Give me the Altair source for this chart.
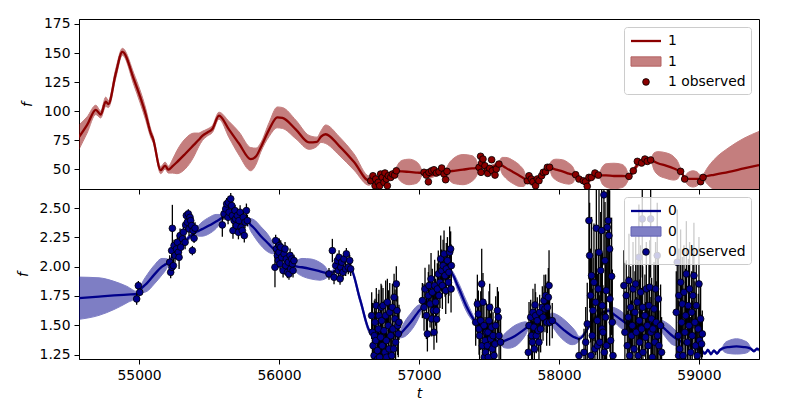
import altair as alt
import pandas as pd

# ---------------- data ----------------
x_ticks = [55000, 56000, 57000, 58000, 59000]
top_y_ticks = [50, 75, 100, 125, 150, 175]
bot_y_ticks = [1.25, 1.5, 1.75, 2.0, 2.25, 2.5]

# model mean and 1-sigma half width, series "1" (t, mean, sd)
top_model = [
    (54571, 77.5, 10.5), (54629, 88, 7), (54691, 101, 4), (54726, 97, 3), (54762, 108, 4),
    (54781, 106, 3), (54833, 132, 4), (54881, 151, 3), (54964, 127, 5), (55048, 97, 5),
    (55086, 80, 3.5), (55100, 76, 3), (55155, 49, 3), (55186, 53, 3), (55209, 49.5, 3),
    (55240, 52.5, 6), (55271, 56, 10), (55329, 63, 13), (55393, 71, 10), (55425, 75, 6),
    (55452, 78.5, 4), (55488, 81.5, 3), (55524, 84.5, 3), (55571, 96, 3), (55643, 84, 7),
    (55714, 72, 10), (55798, 58.5, 10), (55836, 61, 7), (55869, 68.5, 4), (55929, 84, 6),
    (55988, 94.5, 9), (56024, 94, 9), (56121, 84, 8), (56214, 73, 6), (56271, 73.5, 4),
    (56300, 78, 5), (56333, 80, 8), (56429, 70, 8), (56536, 56, 7), (56643, 40, 4),
    (56686, 42, 2), (56729, 39, 2), (56771, 44, 2), (56833, 48.5, 2),
    (56856, 48.2, 7), (56879, 48, 9.5), (56929, 47.5, 11), (56979, 47, 9.5), (57002, 46.8, 7), (57024, 46.5, 2),
    (57071, 44, 2), (57121, 46, 2), (57186, 47.5, 2),
    (57220, 48, 8), (57250, 48.5, 11), (57314, 49.5, 13), (57379, 50.5, 11), (57405, 50.8, 8), (57429, 51, 2),
    (57450, 58, 2), (57486, 50, 2), (57529, 52, 2), (57571, 54.5, 2),
    (57594, 53, 7), (57621, 51, 9), (57671, 47.5, 10), (57721, 44, 9), (57748, 42, 7), (57771, 40, 2),
    (57807, 38, 2), (57836, 41, 2), (57879, 45, 2), (57929, 51.5, 2),
    (57952, 50.5, 7), (57979, 49.5, 9), (58025, 48, 10), (58071, 46, 9), (58098, 45, 7), (58121, 44, 2),
    (58157, 41, 2), (58200, 38, 2), (58236, 43, 2), (58286, 44.5, 2),
    (58310, 44.5, 7.5), (58336, 44.5, 10), (58393, 44, 11), (58450, 44, 10), (58476, 43.8, 7.5), (58500, 43.5, 2),
    (58529, 48, 2), (58557, 53, 2), (58593, 57, 2), (58629, 58, 2), (58657, 58, 2),
    (58680, 56.5, 7.5), (58707, 55, 10), (58764, 53, 11), (58821, 50.5, 10), (58848, 49, 7.5), (58871, 48, 2),
    (58900, 42, 2), (58914, 41.7, 4.5), (58929, 41.5, 6), (58957, 41.5, 7), (58986, 41.5, 6),
    (59000, 41.5, 4.5), (59014, 41.5, 2), (59029, 43, 2),
    (59060, 44, 7), (59107, 45, 13), (59214, 47.5, 21), (59321, 50.5, 26), (59429, 53.4, 29),
]

# observed points, series "1" (t, f, error)
top_obs = [
    (56655, 39.9, 1.5), (56671, 44.2, 1.2), (56686, 35.6, 1.6), (56691, 41.4, 1.3), (56709, 38.5, 1.5),
    (56719, 35.6, 1.4), (56726, 45.7, 1.2), (56738, 42.8, 1.5), (56750, 38.5, 1.3), (56757, 46.6, 1.4),
    (56767, 41.4, 1.5), (56774, 35.6, 1.2), (56781, 44.2, 1.3), (56798, 42.8, 1.5), (56810, 45.7, 1.4),
    (56826, 44.8, 1.2), (56838, 48.5, 1.5),
    (57036, 47.2, 1.4), (57052, 44.8, 1.3), (57067, 39.0, 1.5), (57071, 47.2, 1.2), (57090, 48.5, 1.4),
    (57107, 49.4, 1.3), (57124, 46.6, 1.5), (57143, 47.7, 1.2), (57162, 50.9, 1.4), (57179, 45.7, 1.3),
    (57190, 40.8, 1.5), (57200, 48.0, 1.2),
    (57429, 51.4, 1.5), (57440, 61.0, 1.4), (57443, 47.2, 1.3), (57448, 55.2, 1.5), (57457, 58.6, 1.2),
    (57471, 52.8, 1.4), (57488, 48.5, 1.3), (57491, 46.3, 1.5), (57505, 50.6, 1.2), (57519, 58.0, 1.4),
    (57524, 48.5, 1.3), (57543, 44.8, 1.5), (57552, 50.0, 1.2), (57571, 54.3, 1.4),
    (57774, 39.9, 1.3), (57786, 44.2, 1.5), (57802, 41.4, 1.2), (57814, 39.1, 1.4), (57833, 35.6, 1.3),
    (57845, 41.4, 1.5), (57857, 39.9, 1.2), (57876, 44.2, 1.4), (57888, 47.2, 1.3), (57905, 47.7, 1.5),
    (57917, 51.5, 1.2), (57933, 51.5, 1.4),
    (58119, 45.1, 1.3), (58143, 41.4, 1.5), (58174, 39.9, 1.2), (58190, 39.1, 1.4), (58202, 35.1, 1.3),
    (58214, 42.8, 1.5), (58231, 42.8, 1.2), (58257, 46.6, 1.4), (58281, 44.8, 1.3),
    (58500, 43.7, 1.5), (58531, 48.5, 1.2), (58560, 56.6, 1.4), (58590, 55.2, 1.3), (58614, 58.6, 1.5),
    (58631, 56.6, 1.2), (58655, 57.8, 1.4),
    (58869, 48.0, 1.3), (58898, 41.4, 1.5), (59012, 39.1, 1.2), (59029, 42.8, 1.4),
]

# model mean and 1-sigma half width, series "0" (t, mean, sd)
bot_model = [
    (54571, 1.731, 0.18), (54714, 1.745, 0.16), (54821, 1.755, 0.12), (54914, 1.762, 0.07), (54988, 1.767, 0.02),
    (55007, 1.80, 0.02), (55030, 1.83, 0.05), (55057, 1.86, 0.07), (55107, 1.93, 0.08), (55164, 2.00, 0.07),
    (55190, 2.02, 0.05), (55214, 2.04, 0.02),
    (55257, 2.12, 0.02), (55307, 2.18, 0.02), (55357, 2.25, 0.02), (55405, 2.293, 0.02),
    (55425, 2.305, 0.045), (55450, 2.32, 0.06), (55500, 2.35, 0.07), (55550, 2.385, 0.06), (55572, 2.40, 0.045),
    (55595, 2.42, 0.02),
    (55643, 2.45, 0.02), (55693, 2.42, 0.02), (55736, 2.40, 0.02), (55774, 2.39, 0.02),
    (55795, 2.36, 0.05), (55821, 2.33, 0.07), (55871, 2.26, 0.08), (55929, 2.19, 0.07), (55953, 2.16, 0.05),
    (55976, 2.137, 0.02),
    (56021, 2.07, 0.02), (56064, 2.03, 0.02), (56100, 2.01, 0.02),
    (56130, 2.00, 0.055), (56164, 1.995, 0.075), (56229, 1.98, 0.085), (56293, 1.96, 0.075), (56327, 1.95, 0.055),
    (56357, 1.938, 0.02),
    (56407, 1.97, 0.02), (56457, 1.99, 0.02), (56512, 1.98, 0.02), (56579, 1.72, 0.025), (56655, 1.44, 0.02),
    (56750, 1.42, 0.02), (56857, 1.412, 0.02),
    (56877, 1.44, 0.045), (56900, 1.47, 0.065), (56943, 1.53, 0.075), (56986, 1.60, 0.065), (57006, 1.63, 0.045),
    (57024, 1.654, 0.02),
    (57086, 1.75, 0.02), (57150, 1.85, 0.02), (57226, 1.952, 0.02), (57279, 1.83, 0.04), (57336, 1.67, 0.045),
    (57405, 1.526, 0.02), (57493, 1.44, 0.02), (57583, 1.356, 0.02),
    (57606, 1.365, 0.055), (57636, 1.38, 0.075), (57686, 1.41, 0.09), (57736, 1.45, 0.075), (57762, 1.475, 0.055),
    (57786, 1.50, 0.02),
    (57857, 1.54, 0.02), (57929, 1.569, 0.02),
    (57952, 1.55, 0.055), (57979, 1.52, 0.075), (58036, 1.46, 0.09), (58093, 1.41, 0.075), (58118, 1.395, 0.055),
    (58143, 1.384, 0.02),
    (58250, 1.55, 0.02), (58357, 1.625, 0.02), (58380, 1.605, 0.05), (58407, 1.58, 0.065), (58464, 1.53, 0.07),
    (58500, 1.50, 0.05), (58524, 1.484, 0.02),
    (58614, 1.50, 0.02), (58714, 1.512, 0.02), (58738, 1.49, 0.05), (58764, 1.46, 0.065), (58821, 1.40, 0.07),
    (58855, 1.375, 0.05), (58881, 1.356, 0.02),
    (58957, 1.32, 0.02), (59021, 1.28, 0.02), (59043, 1.26, 0.01), (59064, 1.29, 0.01), (59086, 1.255, 0.01),
    (59107, 1.285, 0.01), (59129, 1.26, 0.01), (59150, 1.29, 0.01), (59164, 1.30, 0.01),
    (59185, 1.31, 0.04), (59214, 1.315, 0.055), (59268, 1.32, 0.065), (59321, 1.315, 0.055), (59350, 1.31, 0.04),
    (59371, 1.30, 0.01),
    (59393, 1.28, 0.01), (59414, 1.30, 0.01), (59429, 1.29, 0.01),
]

# observed points, series "0" (t, f, error)
bot_obs = [
    (54983, 1.725, 0.05), (54995, 1.838, 0.04), (55005, 1.782, 0.03),
    (55219, 2.038, 0.06), (55226, 1.952, 0.05), (55233, 2.137, 0.06), (55235, 1.995, 0.07), (55238, 2.327, 0.2),
    (55245, 2.009, 0.06), (55250, 2.180, 0.05), (55257, 2.095, 0.06), (55267, 2.151, 0.05), (55274, 2.208, 0.06),
    (55281, 2.123, 0.05), (55286, 2.080, 0.1), (55293, 2.265, 0.06), (55298, 2.166, 0.05), (55310, 2.237, 0.06),
    (55317, 2.294, 0.05), (55329, 2.208, 0.06), (55333, 2.356, 0.05), (55338, 2.436, 0.04), (55345, 2.379, 0.05),
    (55352, 2.450, 0.04), (55357, 2.322, 0.06), (55364, 2.421, 0.05), (55369, 2.393, 0.05), (55376, 2.350, 0.06),
    (55381, 2.137, 0.04), (55386, 2.308, 0.05), (55393, 2.242, 0.04), (55400, 2.328, 0.05),
    (55595, 2.356, 0.1), (55607, 2.450, 0.05), (55619, 2.492, 0.06), (55626, 2.535, 0.05), (55636, 2.421, 0.06),
    (55638, 2.549, 0.05), (55643, 2.464, 0.06), (55655, 2.578, 0.05), (55662, 2.521, 0.06), (55667, 2.436, 0.05),
    (55671, 2.308, 0.07), (55679, 2.393, 0.06), (55686, 2.478, 0.05), (55690, 2.407, 0.06), (55695, 2.350, 0.06),
    (55702, 2.436, 0.05), (55710, 2.293, 0.06), (55714, 2.393, 0.05), (55722, 2.464, 0.06), (55729, 2.336, 0.05),
    (55738, 2.308, 0.06), (55745, 2.421, 0.05), (55752, 2.265, 0.06), (55757, 2.379, 0.05), (55767, 2.478, 0.06),
    (55774, 2.393, 0.05),
    (55971, 1.995, 0.17), (55976, 2.222, 0.05), (55981, 2.151, 0.06), (55988, 2.095, 0.05), (55995, 2.052, 0.06),
    (56000, 2.123, 0.05), (56002, 2.180, 0.06), (56007, 2.024, 0.05), (56012, 2.166, 0.06), (56019, 2.080, 0.05),
    (56029, 1.967, 0.06), (56036, 2.109, 0.05), (56043, 2.151, 0.06), (56048, 2.009, 0.05), (56052, 2.066, 0.06),
    (56060, 1.952, 0.05), (56067, 2.038, 0.06), (56071, 1.938, 0.05), (56079, 2.095, 0.06), (56083, 1.981, 0.05),
    (56091, 2.066, 0.06), (56095, 2.024, 0.05), (56100, 1.967, 0.06), (56107, 2.052, 0.05),
    (56357, 1.938, 0.05), (56381, 2.137, 0.1), (56393, 1.910, 0.06), (56405, 2.009, 0.05), (56417, 2.052, 0.06),
    (56424, 1.967, 0.05), (56429, 2.080, 0.06), (56436, 1.896, 0.05), (56441, 1.995, 0.06), (56448, 2.038, 0.05),
    (56457, 1.952, 0.06), (56464, 2.066, 0.05), (56476, 1.981, 0.06), (56481, 2.109, 0.05), (56495, 1.995, 0.06),
    (56505, 2.052, 0.05), (56512, 1.981, 0.06),
    (56662, 1.583, 0.2), (56667, 1.441, 0.25), (56672, 1.327, 0.18), (56679, 1.242, 0.22), (56681, 1.412, 0.3),
    (56686, 1.526, 0.2), (56691, 1.370, 0.25), (56695, 1.668, 0.15), (56703, 1.285, 0.2), (56705, 1.214, 0.25),
    (56710, 1.469, 0.3), (56714, 1.583, 0.22), (56719, 1.228, 0.2), (56726, 1.398, 0.25), (56729, 1.654, 0.2),
    (56733, 1.540, 0.3), (56738, 1.327, 0.2), (56743, 1.668, 0.15), (56750, 1.455, 0.25), (56757, 1.270, 0.2),
    (56762, 1.583, 0.3), (56767, 1.370, 0.2), (56769, 1.228, 0.25), (56774, 1.697, 0.2), (56781, 1.498, 0.3),
    (56786, 1.299, 0.2), (56791, 1.611, 0.25), (56798, 1.412, 0.2), (56805, 1.242, 0.25), (56810, 1.654, 0.2),
    (56814, 1.469, 0.3), (56819, 1.299, 0.2), (56822, 1.739, 0.2), (56829, 1.555, 0.25), (56833, 1.356, 0.2),
    (56838, 1.853, 0.15), (56843, 1.626, 0.2), (56848, 1.498, 0.25), (56852, 1.427, 0.2), (56857, 1.526, 0.15),
    (57024, 1.711, 0.15), (57036, 1.654, 0.2), (57043, 1.810, 0.18), (57053, 1.583, 0.2), (57060, 1.427, 0.15),
    (57067, 1.754, 0.2), (57071, 1.839, 0.18), (57079, 1.682, 0.2), (57086, 1.896, 0.22), (57091, 1.555, 0.15),
    (57095, 1.782, 0.2), (57103, 1.626, 0.18), (57107, 1.441, 0.15), (57112, 1.839, 0.22), (57119, 1.697, 0.2),
    (57124, 1.626, 0.18), (57126, 1.552, 0.2), (57131, 1.810, 0.22), (57138, 1.938, 0.2), (57143, 1.754, 0.18),
    (57150, 1.867, 0.22), (57155, 2.066, 0.2), (57162, 1.967, 0.18), (57167, 1.839, 0.2), (57172, 2.009, 0.22),
    (57179, 2.109, 0.2), (57186, 1.924, 0.18), (57191, 1.796, 0.2), (57195, 1.981, 0.22), (57203, 2.052, 0.2),
    (57210, 1.867, 0.18), (57214, 1.952, 0.2), (57219, 2.123, 0.22), (57226, 2.151, 0.15), (57229, 1.810, 0.2),
    (57231, 2.009, 0.18),
    (57405, 1.526, 0.2), (57417, 1.682, 0.25), (57424, 1.597, 0.2), (57429, 1.469, 0.22), (57433, 1.412, 0.2),
    (57441, 1.540, 0.25), (57448, 1.853, 0.3), (57453, 1.327, 0.2), (57457, 1.697, 0.25), (57464, 1.498, 0.2),
    (57467, 1.228, 0.25), (57472, 1.370, 0.2), (57476, 1.270, 0.22), (57481, 1.441, 0.25), (57488, 1.327, 0.2),
    (57493, 1.441, 0.22), (57495, 1.228, 0.2), (57500, 1.540, 0.25), (57505, 1.654, 0.2), (57512, 1.384, 0.22),
    (57519, 1.484, 0.2), (57524, 1.299, 0.25), (57529, 1.412, 0.2), (57536, 1.242, 0.22), (57543, 1.341, 0.2),
    (57548, 1.498, 0.25), (57560, 1.626, 0.2), (57567, 1.569, 0.22), (57572, 1.412, 0.2), (57583, 1.356, 0.2),
    (57781, 1.270, 0.15), (57786, 1.498, 0.2), (57798, 1.569, 0.15), (57805, 1.412, 0.2), (57810, 1.356, 0.18),
    (57814, 1.611, 0.2), (57821, 1.484, 0.15), (57824, 1.299, 0.2), (57829, 1.674, 0.18), (57833, 1.583, 0.2),
    (57838, 1.412, 0.15), (57845, 1.540, 0.2), (57852, 1.455, 0.18), (57857, 1.356, 0.2), (57862, 1.611, 0.15),
    (57869, 1.469, 0.2), (57881, 1.654, 0.18), (57886, 1.569, 0.2), (57893, 1.711, 0.22), (57900, 1.640, 0.2),
    (57905, 1.754, 0.18), (57912, 1.526, 0.2), (57917, 1.654, 0.22), (57924, 1.739, 0.25), (57929, 1.839, 0.3),
    (57933, 1.526, 0.2), (57952, 1.540, 0.15),
    (58143, 1.242, 0.15), (58179, 1.270, 0.2), (58191, 1.356, 0.3), (58202, 1.512, 0.35), (58214, 2.393, 0.5),
    (58219, 2.095, 0.45), (58226, 1.754, 0.4), (58229, 1.242, 0.35), (58233, 1.924, 0.5), (58238, 1.412, 0.4),
    (58243, 1.626, 0.45), (58250, 1.867, 0.5), (58257, 1.299, 0.35), (58262, 1.697, 0.45), (58267, 2.328, 0.55),
    (58274, 1.540, 0.4), (58276, 1.327, 0.35), (58281, 1.810, 0.5), (58286, 2.123, 0.55), (58291, 1.356, 0.4),
    (58298, 1.967, 0.5), (58305, 2.308, 0.6), (58307, 1.469, 0.4), (58310, 1.668, 0.45), (58314, 1.441, 0.4),
    (58321, 2.612, 0.6), (58324, 1.270, 0.35), (58329, 2.052, 0.5), (58333, 1.569, 0.45), (58338, 1.796, 0.5),
    (58340, 1.327, 0.4), (58345, 2.336, 0.55), (58352, 2.393, 0.6), (58357, 2.265, 0.55), (58362, 2.151, 0.5),
    (58364, 1.725, 0.45), (58369, 1.370, 0.4), (58376, 1.918, 0.5), (58381, 1.526, 0.45), (58386, 1.242, 0.35),
    (58464, 1.839, 0.3), (58471, 1.441, 0.35), (58481, 1.754, 0.3), (58488, 1.327, 0.3), (58495, 1.569, 0.35),
    (58500, 1.881, 0.4), (58505, 1.242, 0.3), (58512, 1.654, 0.35), (58519, 1.412, 0.3), (58524, 1.498, 0.35),
    (58529, 1.810, 0.4), (58536, 1.299, 0.3), (58543, 1.611, 0.35), (58548, 1.853, 0.4), (58552, 1.441, 0.3),
    (58559, 1.697, 0.35), (58567, 1.242, 0.3), (58571, 2.080, 0.45), (58574, 1.540, 0.35), (58576, 1.356, 0.3),
    (58583, 1.782, 0.4), (58590, 1.469, 0.35), (58595, 2.407, 0.5), (58598, 1.654, 0.35), (58600, 1.270, 0.3),
    (58614, 1.583, 0.35), (58619, 1.398, 0.3), (58624, 1.810, 0.4), (58631, 1.498, 0.35), (58638, 1.327, 0.3),
    (58643, 1.668, 0.35), (58648, 1.825, 0.4), (58655, 2.407, 0.5), (58657, 1.441, 0.3), (58662, 1.555, 0.35),
    (58667, 1.228, 0.3), (58671, 1.469, 0.35), (58679, 1.640, 0.4), (58686, 1.356, 0.3), (58690, 1.810, 0.4),
    (58695, 1.526, 0.35), (58702, 2.095, 0.45), (58704, 1.412, 0.3), (58710, 1.725, 0.4), (58714, 1.327, 0.3),
    (58726, 1.498, 0.35), (58733, 1.270, 0.3),
    (58838, 1.611, 0.35), (58845, 2.038, 0.45), (58852, 1.412, 0.3), (58855, 1.242, 0.3), (58857, 1.754, 0.4),
    (58862, 1.299, 0.3), (58869, 1.867, 0.45), (58876, 1.526, 0.35), (58881, 1.682, 0.4), (58886, 1.242, 0.3),
    (58893, 1.782, 0.4), (58900, 1.441, 0.35), (58905, 1.583, 0.4), (58910, 1.938, 0.45), (58917, 1.356, 0.3),
    (58924, 1.668, 0.4), (58929, 1.498, 0.35), (58933, 1.810, 0.4), (58941, 1.270, 0.3), (58948, 1.611, 0.35),
    (58952, 1.412, 0.3), (58957, 1.754, 0.4), (58964, 1.924, 0.45), (58971, 1.526, 0.35), (58976, 1.327, 0.3),
    (58981, 1.668, 0.35), (58988, 1.242, 0.3), (58995, 1.469, 0.3), (59000, 1.853, 0.4), (59005, 1.370, 0.3),
    (59012, 1.555, 0.3), (59019, 1.341, 0.25), (59024, 1.427, 0.2),
]

# ---------------- chart ----------------
X_DOMAIN = [54571, 59429]
LINE_SYM = "M-2,0L2,0"
RECT_SYM = "M-2,-0.62L2,-0.62L2,0.62L-2,0.62Z"


def panel(model, obs, ydom, yticks, yfmt, line_c, band_mix, band_edge, keys, labels, show_x):
    mdf = pd.DataFrame(model, columns=["t", "mu", "sd"])
    mdf["lo"] = mdf["mu"] - mdf["sd"]
    mdf["hi"] = mdf["mu"] + mdf["sd"]
    odf = pd.DataFrame(obs, columns=["t", "f", "err"])
    odf["lo"] = odf["f"] - odf["err"]
    odf["hi"] = odf["f"] + odf["err"]
    odf["lab"] = keys[2]

    xs = alt.Scale(domain=X_DOMAIN, nice=False, zero=False)
    ys = alt.Scale(domain=ydom, nice=False, zero=False)
    if show_x:
        xax = alt.Axis(values=x_ticks, tickCount=20, format="d", title="t",
                       labelFlush=False, labelOverlap=False)
    else:
        xax = alt.Axis(values=x_ticks, tickCount=20, labels=False, title=None)
    yax = alt.Axis(values=yticks, tickCount=20, format=yfmt, title="f",
                   labelFlush=False, labelOverlap=False)

    band = alt.Chart(mdf).mark_area(
        color=line_c, opacity=0.5, stroke=line_c, strokeWidth=1,
        interpolate="monotone", clip=True,
    ).encode(
        x=alt.X("t:Q", scale=xs, axis=xax),
        y=alt.Y("lo:Q", scale=ys, axis=yax),
        y2="hi:Q",
    )
    line = alt.Chart(mdf).mark_line(
        color=line_c, strokeWidth=2.3, interpolate="monotone", clip=True
    ).encode(x="t:Q", y="mu:Q")
    bars = alt.Chart(odf).mark_rule(color="black", strokeWidth=1.3, clip=True).encode(
        x="t:Q", y="lo:Q", y2="hi:Q"
    )
    lab_expr = f"datum.label == '{keys[2]}' ? '{labels[2]}' : '{labels[0]}'"
    leg = alt.Legend(title=None, labelExpr=lab_expr)
    pts = alt.Chart(odf).mark_point(filled=True, opacity=1, clip=True).encode(
        x="t:Q",
        y="f:Q",
        color=alt.Color("lab:N", scale=alt.Scale(domain=keys, range=[line_c, band_mix, line_c]), legend=leg),
        stroke=alt.Stroke("lab:N", scale=alt.Scale(domain=keys, range=[line_c, band_edge, "black"]), legend=leg),
        shape=alt.Shape("lab:N", scale=alt.Scale(domain=keys, range=[LINE_SYM, RECT_SYM, "circle"]), legend=leg),
        size=alt.Size("lab:N", scale=alt.Scale(type="ordinal", domain=keys, range=[225, 225, 45]), legend=leg),
        strokeWidth=alt.StrokeWidth("lab:N", scale=alt.Scale(type="ordinal", domain=keys, range=[2.3, 1, 0.8]), legend=leg),
    )
    return alt.layer(band, line, bars, pts).properties(width=680, height=170)


top = panel(top_model, top_obs, [32.8, 179.3], top_y_ticks, "d",
            "#8b0000", "#c58080", "#b36060", ["a", "b", "o"], ["1", "1", "1 observed"], False)
bot = panel(bot_model, bot_obs, [1.213, 2.662], bot_y_ticks, ".2f",
            "#00008b", "#8080c5", "#6060b3", ["c", "d", "p"], ["0", "0", "0 observed"], True)

chart = (
    alt.vconcat(top, bot, spacing=0, bounds="flush")
    .resolve_scale(color="independent", stroke="independent", shape="independent",
                   size="independent", strokeWidth="independent")
    .properties(padding={"left": 7, "top": 8, "right": 10, "bottom": 5}, background="white")
    .configure(font="DejaVu Sans")
    .configure_view(stroke="black", strokeWidth=1)
    .configure_axis(
        labelFont="DejaVu Sans", labelFontSize=13.9, labelColor="black",
        tickColor="black", domainColor="black", tickSize=5, tickWidth=1, domainWidth=1,
        labelPadding=4, titleFont="DejaVu Sans", titleFontSize=14, titleFontStyle="italic",
        titleFontWeight="normal", titleColor="black", grid=False,
    )
    .configure_axisY(titlePadding=9)
    .configure_axisX(titlePadding=5)
    .configure_legend(
        orient="top-right", offset=8, padding=5, fillColor="rgba(255,255,255,0.8)",
        strokeColor="#cccccc", cornerRadius=3, labelFont="DejaVu Sans", labelFontSize=13.9,
        labelColor="black", labelOffset=13, symbolOffset=8, rowPadding=5.5,
    )
)

chart.save("out.html", embed_options={"renderer": "svg", "actions": False})
